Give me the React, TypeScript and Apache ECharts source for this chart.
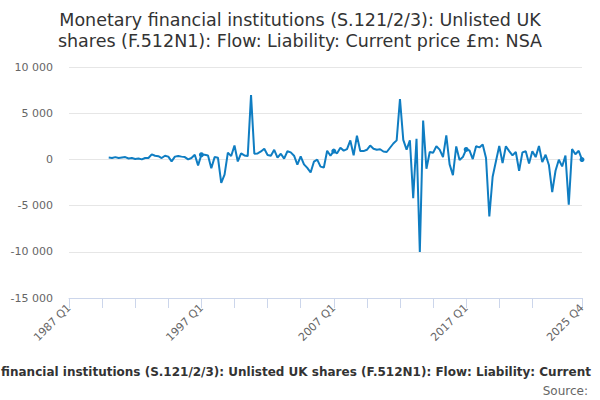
import React, { useEffect, useRef } from "react";
import * as echarts from "echarts";

const FIRST_YEAR = 1987;
const LAST_YEAR = 2025;
const QUARTERS = ["Q1", "Q2", "Q3", "Q4"];

// Quarterly flow, £m, 1990 Q1 .. 2025 Q4
const leadingEmptyQuarters = 12; // 1987 Q1 .. 1989 Q4 have no data
const values: number[] = [
  // 1990
  200, 150, 250, 150,
  // 1991
  200, 250, 100, 150,
  // 1992
  50, 100, 0, 150,
  // 1993
  150, 550, 400, 350,
  // 1994
  150, 400, 300, -220,
  // 1995
  300, 370, 300, 250,
  // 1996
  0, 150, 500, -650,
  // 1997
  500, 500, 430, -950,
  // 1998
  250, 180, -2550, -1650,
  // 1999
  730, 360, 1500, -220,
  // 2000
  650, 430, 360, 6970,
  // 2001
  610, 650, 860, 1150,
  // 2002
  480, 400, 1040, 190,
  // 2003
  610, 80, 880, 760,
  // 2004
  400, -560, 320, -540,
  // 2005
  -920, -1420, -250, -20,
  // 2006
  -780, -880, 930, 400,
  // 2007
  900, 660, 1260, 950,
  // 2008
  1120, 2050, 440, 2560,
  // 2009
  900, 900, 1040, 1500,
  // 2010
  1150, 1040, 1100, 850,
  // 2011
  800, 1260, 1720, 2060,
  // 2012
  6540, 2120, 1060, 2060,
  // 2013
  -4190, 2240, -10020, 4200,
  // 2014
  -1010, 800, 710, 1420,
  // 2015
  1060, 250, 2590, -540,
  // 2016
  -1700, 1410, -60, 250,
  // 2017
  1080, 970, 40, 1420,
  // 2018
  1300, 1610, 150, -6180,
  // 2019
  -1880, -200, 1460, -400,
  // 2020
  1420, 900, 440, 800,
  // 2021
  -1230, 760, 880, -440,
  // 2022
  880, 250, 1450, -290,
  // 2023
  500, -600, -3550, -1230,
  // 2024
  -40, -760, 420, -4890,
  // 2025
  1120, 560, 930, -20,
];

const TITLE_TEXT =
  "Monetary financial institutions (S.121/2/3): Unlisted UK\nshares (F.512N1): Flow: Liability: Current price £m: NSA";
const LEGEND_TEXT =
  "financial institutions (S.121/2/3): Unlisted UK shares (F.512N1): Flow: Liability: Current";
const SOURCE_TEXT = "Source:";

const Y_MIN = -15000;
const Y_MAX = 10000;
const Y_STEP = 5000;

const FONT = "'DejaVu Sans', sans-serif";

function formatThousands(v: number): string {
  const s = Math.abs(v)
    .toString()
    .replace(/\B(?=(\d{3})+(?!\d))/g, " ");
  return (v < 0 ? "-" : "") + s;
}

export default function App() {
  const ref = useRef<HTMLDivElement>(null);

  useEffect(() => {
    document.body.style.margin = "0";
    if (!ref.current) return;
    const chart = echarts.init(ref.current, undefined, { renderer: "svg" });

    const categories: string[] = [];
    for (let y = FIRST_YEAR; y <= LAST_YEAR; y++) {
      for (const q of QUARTERS) categories.push(`${y} ${q}`);
    }
    const lastIdx = categories.length - 1;
    const seriesData: (number | null)[] = [
      ...new Array(leadingEmptyQuarters).fill(null),
      ...values,
    ];

    chart.setOption({
      animation: false,
      grid: { left: 69, right: 18, top: 67, bottom: 102, containLabel: false },
      xAxis: {
        type: "category",
        data: categories,
        boundaryGap: false,
        axisLine: { show: true, onZero: false, lineStyle: { color: "#ccd6eb", width: 1 } },
        axisTick: {
          show: true,
          length: 10,
          interval: (i: number) => (i % 10 === 0 && i <= lastIdx - 10) || i === lastIdx,
          lineStyle: { color: "#ccd6eb" },
        },
        axisLabel: {
          interval: (i: number) => i % 40 === 0 || i === lastIdx,
          rotate: 45,
          color: "#666666",
          fontFamily: FONT,
          fontSize: 11,
          margin: 8,
          showMaxLabel: true,
        },
        splitLine: { show: false },
      },
      yAxis: {
        type: "value",
        min: Y_MIN,
        max: Y_MAX,
        interval: Y_STEP,
        axisLine: { show: false },
        axisTick: { show: false },
        axisLabel: {
          color: "#666666",
          fontFamily: FONT,
          fontSize: 11,
          margin: 16,
          formatter: (v: number) => formatThousands(v),
        },
        splitLine: { show: true, lineStyle: { color: "#e6e6e6", width: 1 } },
      },
      series: [
        {
          type: "line",
          data: seriesData,
          symbol: "circle",
          symbolSize: 5,
          showSymbol: true,
          connectNulls: false,
          itemStyle: { color: "#0f7dc2" },
          lineStyle: { color: "#0f7dc2", width: 2 },
        },
      ],
      graphic: [
        {
          type: "text",
          x: 300,
          y: 9,
          style: {
            text: TITLE_TEXT,
            textAlign: "center",
            fontFamily: FONT,
            fontSize: 17.5,
            lineHeight: 21,
            fill: "#333333",
          },
        },
        {
          type: "text",
          x: 296,
          y: 366,
          style: {
            text: LEGEND_TEXT,
            textAlign: "center",
            fontFamily: FONT,
            fontSize: 12,
            fontWeight: "bold",
            fill: "#333333",
          },
        },
        {
          type: "text",
          x: 588,
          y: 385,
          style: {
            text: SOURCE_TEXT,
            textAlign: "right",
            fontFamily: FONT,
            fontSize: 12,
            fill: "#666666",
          },
        },
      ],
    });

    return () => chart.dispose();
  }, []);

  return <div ref={ref} style={{ width: 600, height: 400 }} />;
}
